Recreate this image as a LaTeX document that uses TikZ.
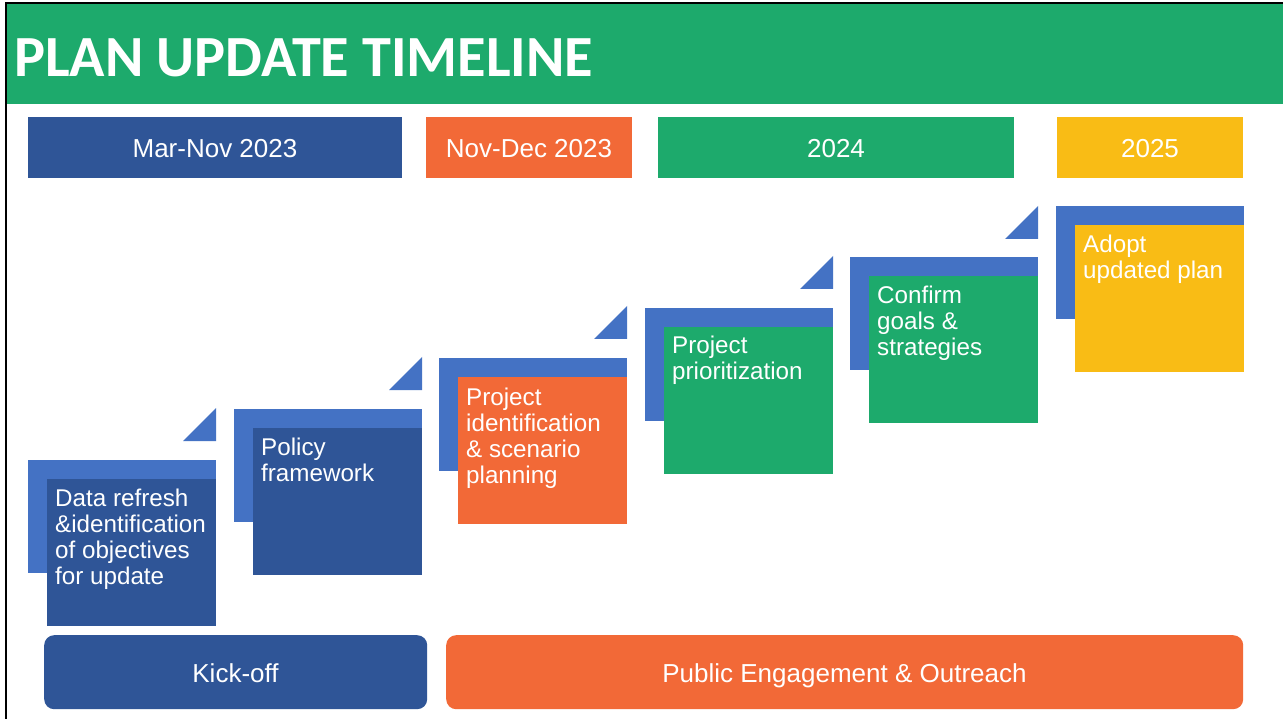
\documentclass[tikz,border=0pt]{standalone}
\usepackage{fontspec}
\setmainfont{Liberation Sans}
\newfontfamily\titlefont{Carlito}
\definecolor{hdrgreen}{RGB}{29,170,108}
\definecolor{dkblue}{RGB}{47,85,151}
\definecolor{ltblue}{RGB}{68,114,196}
\definecolor{orng}{RGB}{242,105,55}
\definecolor{yllw}{RGB}{249,188,21}
\begin{document}
\begin{tikzpicture}[x=1pt,y=-1pt,
  bar/.style={draw=none, inner sep=0, anchor=north west},
  bartext/.style={anchor=base, inner sep=0, text=white, font=\fontsize{26}{30}\selectfont},
  backbox/.style={fill=ltblue, draw=none, minimum width=188pt, minimum height=113pt, anchor=north west, inner sep=0},
  frontbox/.style={draw=none, minimum width=169pt, minimum height=147pt, anchor=north west, inner sep=0},
  boxtext/.style={anchor=base west, inner sep=0, text=white, font=\fontsize{24.2}{26}\selectfont},
  tri/.style={fill=ltblue, draw=none},
  pill/.style={draw=none, rounded corners=10pt, anchor=north west, inner sep=0, minimum height=74pt}]
\useasboundingbox (0,0) rectangle (1283,719);
\fill[white] (0,0) rectangle (1283,719);
% header
\fill[hdrgreen] (7,4) rectangle (1283,104);
\draw[black, line width=2pt] (6,719) -- (6,3) -- (1283,3);
\node[anchor=base west, inner sep=0, text=white, font=\titlefont\bfseries\fontsize{58.3}{60}\selectfont] (title) at (14,76.5) {PLAN UPDATE TIMELINE};
% date bars
\node[bar, fill=dkblue, minimum width=374pt, minimum height=61pt] (d1) at (28,117) {};
\node[bar, fill=orng, minimum width=206pt, minimum height=61pt] (d2) at (426,117) {};
\node[bar, fill=hdrgreen, minimum width=356pt, minimum height=61pt] (d3) at (658,117) {};
\node[bar, fill=yllw, minimum width=186pt, minimum height=61pt] (d4) at (1057,117) {};
\node[bartext] (d1t) at (215,158) {Mar-Nov 2023};
\node[bartext] (d2t) at (529,158) {Nov-Dec 2023};
\node[bartext] (d3t) at (836,158) {2024};
\node[bartext] (d4t) at (1150,158) {2025};
% steps: back boxes
\node[backbox] (b1) at (28,460) {};
\node[backbox] (b2) at (234,409) {};
\node[backbox] (b3) at (439,358) {};
\node[backbox] (b4) at (645,308) {};
\node[backbox] (b5) at (850,257) {};
\node[backbox] (b6) at (1056,206) {};
% triangles
\fill[tri] (183,441) -- (216,408) -- (216,441) -- cycle;
\fill[tri] (389,390) -- (422,357) -- (422,390) -- cycle;
\fill[tri] (594,339) -- (627,306) -- (627,339) -- cycle;
\fill[tri] (800,289) -- (833,256) -- (833,289) -- cycle;
\fill[tri] (1005,239) -- (1038,206) -- (1038,239) -- cycle;
% front boxes
\node[frontbox, fill=dkblue] (f1) at (47,479) {};
\node[frontbox, fill=dkblue] (f2) at (253,428) {};
\node[frontbox, fill=orng] (f3) at (458,377) {};
\node[frontbox, fill=hdrgreen] (f4) at (664,327) {};
\node[frontbox, fill=hdrgreen] (f5) at (869,276) {};
\node[frontbox, fill=yllw] (f6) at (1075,225) {};
% texts
\node[boxtext] (t1) at (55,506) {\parbox[t]{160pt}{\raggedright Data refresh\\\&identification\\of objectives\\for update}};
\node[boxtext] (t2) at (261,455) {\parbox[t]{160pt}{\raggedright Policy\\framework}};
\node[boxtext] (t3) at (466,405) {\parbox[t]{160pt}{\raggedright Project\\identification\\\& scenario\\planning}};
\node[boxtext] (t4) at (672,354) {\parbox[t]{160pt}{\raggedright Project\\prioritization}};
\node[boxtext] (t5) at (877,304) {\parbox[t]{160pt}{\raggedright Confirm\\goals \&\\strategies}};
\node[boxtext] (t6) at (1083,253) {\parbox[t]{160pt}{\raggedright Adopt\\updated plan}};
% bottom bars
\node[pill, fill=dkblue, minimum width=383pt] (kick) at (44,635) {};
\node[pill, fill=orng, minimum width=797pt] (pub) at (446,635) {};
\node[bartext] (kickt) at (235.5,682) {Kick-off};
\node[bartext] (pubt) at (844.5,682) {Public Engagement \& Outreach};
\end{tikzpicture}
\end{document}
